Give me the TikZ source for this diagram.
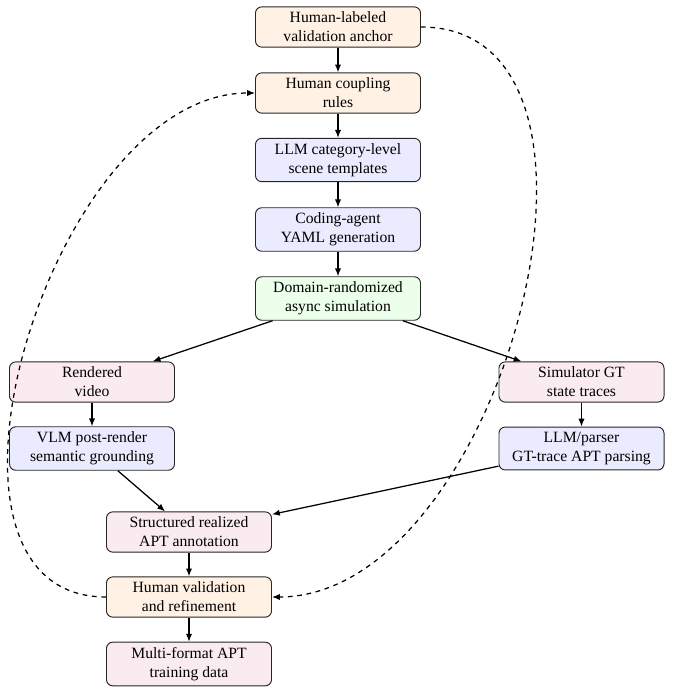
\documentclass[tikz,border=0pt]{standalone}
\usepackage{fontspec}
\setmainfont{Liberation Serif}
\usetikzlibrary{arrows.meta}
\definecolor{humanfill}{rgb}{1,0.95,0.90}
\definecolor{llmfill}{rgb}{0.92,0.92,1}
\definecolor{simfill}{rgb}{0.92,1,0.92}
\definecolor{datafill}{rgb}{0.98,0.92,0.94}
\tikzset{
  box/.style={draw=black!85, semithick, rounded corners=4pt, align=center,
    minimum width=105.4pt, inner sep=3.33pt, font=\fontsize{10}{12}\selectfont},
  humanbox/.style={box, fill=humanfill},
  llmbox/.style={box, fill=llmfill},
  simbox/.style={box, fill=simfill},
  databox/.style={box, fill=datafill},
  flow/.style={thick, -{Latex[length=5pt,width=4pt]}},
  fb/.style={thick, dashed, -{Latex[length=5pt,width=4pt]}}
}
\begin{document}
\begin{tikzpicture}[x=0.6386pt,y=-0.6386pt]
\useasboundingbox (0,0) rectangle (673,694);
\node[humanbox] (anchor) at (338,27) {Human-labeled\\validation anchor};
\node[humanbox] (rules) at (338,93) {Human coupling\\rules};
\node[llmbox] (tmpl) at (338,160) {LLM category-level\\scene templates};
\node[llmbox] (yaml) at (338,229.5) {Coding-agent\\YAML generation};
\node[simbox] (sim) at (338,298.5) {Domain-randomized\\async simulation};
\node[databox] (video) at (92,382) {Rendered\\video};
\node[llmbox] (vlm) at (92,448.5) {VLM post-render\\semantic grounding};
\node[databox] (gt) at (581.5,382) {Simulator GT\\state traces};
\node[llmbox] (parser) at (581.5,448.5) {LLM/parser\\GT-trace APT parsing};
\node[databox] (struct) at (189,532) {Structured realized\\APT annotation};
\node[humanbox] (valid) at (189,597) {Human validation\\and refinement};
\node[databox] (multi) at (189,664) {Multi-format APT\\training data};
\draw[flow] (anchor) -- (rules);
\draw[flow] (rules) -- (tmpl);
\draw[flow] (tmpl) -- (yaml);
\draw[flow] (yaml) -- (sim);
\draw[flow] (sim) -- (video);
\draw[flow] (sim) -- (gt);
\draw[flow] (video) -- (vlm);
\draw[flow] (gt) -- (parser);
\draw[flow] (vlm) -- (struct);
\draw[flow] (parser) -- (struct);
\draw[flow] (struct) -- (valid);
\draw[flow] (valid) -- (multi);
\draw[fb] (anchor.east) to[out=0,in=0] (valid.east);
\draw[fb] (valid.west) to[out=180,in=180] (rules.west);
\end{tikzpicture}
\end{document}
